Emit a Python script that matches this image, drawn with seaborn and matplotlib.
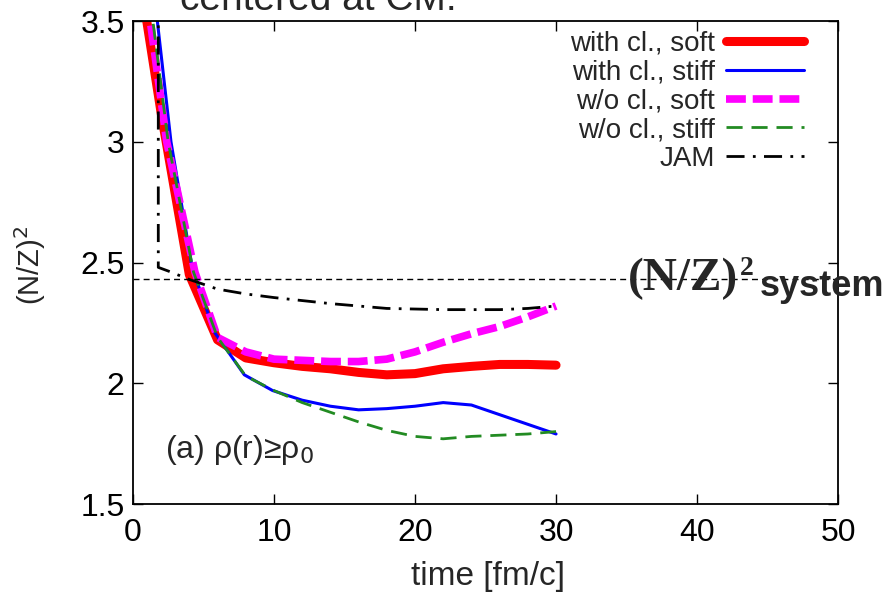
import numpy as np
import pandas as pd
import matplotlib
matplotlib.use("Agg")
import matplotlib.pyplot as plt
import seaborn as sns

# values
t_soft_cl = [0.5, 2, 4, 6, 8, 10, 12, 14, 16, 18, 20, 22, 24, 26, 28, 30]
y_soft_cl = [3.68, 3.12, 2.45, 2.18, 2.105, 2.085, 2.07, 2.06, 2.045, 2.035,
             2.04, 2.06, 2.07, 2.078, 2.078, 2.075]

t_stiff_cl = [1.5, 2.7, 4.2, 5.8, 7.9, 9.9, 12, 14, 16, 18, 20, 22, 24, 26, 28, 30]
y_stiff_cl = [3.62, 3.0, 2.48, 2.21, 2.035, 1.97, 1.93, 1.905, 1.89, 1.895,
              1.905, 1.92, 1.91, 1.87, 1.83, 1.79]

t_soft_nocl = [1.0, 2.4, 4.4, 6, 8, 10, 12, 14, 16, 18, 20, 22, 24, 26, 28, 30]
y_soft_nocl = [3.6, 3.0, 2.46, 2.19, 2.13, 2.10, 2.095, 2.09, 2.09, 2.10,
               2.13, 2.17, 2.205, 2.235, 2.275, 2.32]

t_stiff_nocl = [1.2, 2.5, 4.3, 6, 8, 10, 12, 14, 16, 18, 20, 22, 24, 26, 28, 30]
y_stiff_nocl = [3.6, 3.0, 2.46, 2.19, 2.03, 1.97, 1.92, 1.88, 1.84, 1.805,
                1.78, 1.77, 1.78, 1.785, 1.79, 1.80]

t_jam = [1.8, 1.8, 2.5, 4, 6, 8, 10, 14, 18, 22, 26, 28, 30]
y_jam = [3.6, 2.48, 2.465, 2.43, 2.39, 2.37, 2.355, 2.33, 2.31, 2.305, 2.305, 2.31, 2.32]

nz_system = 2.43

sns.set_style("ticks")
plt.rcParams['font.family'] = ['Liberation Sans', 'DejaVu Sans']

fig = plt.figure(figsize=(8.86, 5.94), dpi=100)
ax = fig.add_axes([0.150, 0.1515, 0.796, 0.813])

series = [
    (t_soft_cl, y_soft_cl, "with cl., soft", "#ff0000", 6.5, "-"),
    (t_stiff_cl, y_stiff_cl, "with cl., stiff", "#0000ff", 2.2, "-"),
    (t_soft_nocl, y_soft_nocl, "w/o cl., soft", "#ff00ff", 5.5, (0, (2.6, 0.9))),
    (t_stiff_nocl, y_stiff_nocl, "w/o cl., stiff", "#228b22", 2.0, (0, (5.8, 3.2))),
    (t_jam, y_jam, "JAM", "black", 2.0, (0, (6.5, 3, 1, 3))),
]
for tt, yy, lab, col, lw, ls in series:
    df = pd.DataFrame({"t": tt, "y": yy})
    sns.lineplot(data=df, x="t", y="y", ax=ax, color=col, lw=lw, linestyle=ls,
                 label=lab, sort=False, estimator=None)

ax.axhline(nz_system, color="black", lw=1.0, linestyle=(0, (4.3, 3)))

ax.set_xlim(0, 50)
ax.set_ylim(1.5, 3.5)
ax.set_xticks([0, 10, 20, 30, 40, 50])
ax.set_yticks([1.5, 2, 2.5, 3, 3.5])
ax.set_yticklabels(["1.5", "2", "2.5", "3", "3.5"])
ax.tick_params(direction="in", length=7, width=1, top=True, right=True,
               labelsize=23, colors="black")
ax.tick_params(axis="x", pad=10)
ax.tick_params(axis="y", pad=6)
for sp in ax.spines.values():
    sp.set_visible(True)
    sp.set_color("black")
    sp.set_linewidth(1.3)

ax.set_xlabel("time [fm/c]", fontsize=24)
ax.xaxis.set_label_coords(0.503, -0.118)
ax.set_ylabel("(N/Z)$^2$", fontsize=21)
ax.yaxis.set_label_coords(-0.12, 0.495)

leg = ax.legend(loc="upper right", bbox_to_anchor=(0.951, 0.98), frameon=False,
                markerfirst=False, fontsize=20, handlelength=2.8, handletextpad=0.4,
                labelspacing=0.1, borderpad=0, borderaxespad=0)

ax.text(0.045, 0.095, r"(a) ρ(r)≥ρ$_0$", transform=ax.transAxes, fontsize=23,
        va="baseline", ha="left")

# annotation outside the axes on the right
fig.text(628 / 886, 1 - 290 / 594, "(N/Z)", fontsize=34, fontweight="bold",
         family="Liberation Serif", va="baseline", ha="left")
fig.text(740 / 886, 1 - 275 / 594, "2", fontsize=20, fontweight="bold",
         family="Liberation Serif", va="baseline", ha="left")
fig.text(760 / 886, 1 - 296 / 594, "system", fontsize=26, fontweight="bold",
         va="baseline", ha="left")

# partly cut title from the slide
fig.text(180 / 886, 1 - 10 / 594, "centered at CM.", fontsize=28,
         va="baseline", ha="left")

fig.savefig("out.png", dpi=100)
